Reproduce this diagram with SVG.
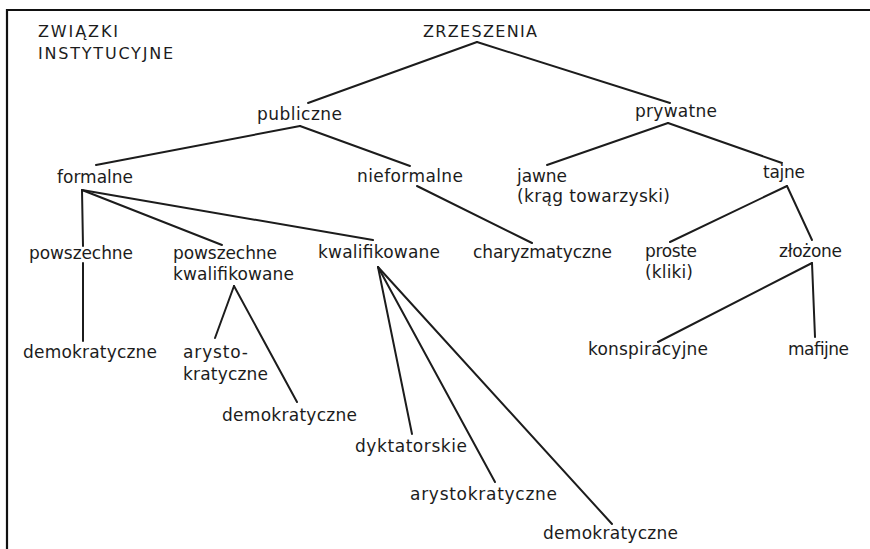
<svg xmlns="http://www.w3.org/2000/svg" width="870" height="549" viewBox="0 0 870 549">
<style>
text{font-family:"DejaVu Sans","Liberation Sans",sans-serif;font-size:17px;fill:#1c1c1c}
.cap{font-size:16px}
.ln{stroke:#1c1c1c;stroke-width:2;fill:none;stroke-linecap:round}
.frame{stroke:#111;stroke-width:2.2;fill:none}
</style>
<rect width="870" height="549" fill="#fff"/>
<path class="frame" d="M7,549 V10 H870"/>
<g id="connectors">
<line class="ln" x1="477" y1="42" x2="308" y2="103"/>
<line class="ln" x1="477" y1="42" x2="670" y2="103"/>
<line class="ln" x1="300" y1="126" x2="96" y2="165"/>
<line class="ln" x1="300" y1="126" x2="410" y2="166"/>
<line class="ln" x1="668" y1="123" x2="547" y2="165"/>
<line class="ln" x1="668" y1="123" x2="782" y2="163"/>
<line class="ln" x1="787" y1="186" x2="670" y2="242"/>
<line class="ln" x1="787" y1="186" x2="812" y2="240"/>
<line class="ln" x1="812" y1="263" x2="658" y2="342"/>
<line class="ln" x1="812" y1="263" x2="815" y2="337"/>
<line class="ln" x1="82" y1="190" x2="83" y2="246"/>
<line class="ln" x1="82" y1="190" x2="222" y2="245"/>
<line class="ln" x1="82" y1="190" x2="373" y2="240"/>
<line class="ln" x1="417" y1="186" x2="532" y2="243"/>
<line class="ln" x1="83" y1="263" x2="83" y2="341"/>
<line class="ln" x1="234" y1="286" x2="215" y2="338"/>
<line class="ln" x1="234" y1="286" x2="297" y2="402"/>
<line class="ln" x1="378" y1="267" x2="412" y2="434"/>
<line class="ln" x1="378" y1="267" x2="495" y2="482"/>
<line class="ln" x1="378" y1="267" x2="612" y2="524"/>
</g>
<g id="zwiazki"><text class="cap" x="38" y="37" textLength="80" lengthAdjust="spacing">ZWIĄZKI</text><text class="cap" x="38" y="59" textLength="135" lengthAdjust="spacing">INSTYTUCYJNE</text></g>
<g id="zrzeszenia"><text class="cap" x="423" y="37" textLength="114" lengthAdjust="spacing">ZRZESZENIA</text></g>
<g id="publiczne"><text x="257" y="120" textLength="85" lengthAdjust="spacing">publiczne</text></g>
<g id="prywatne"><text x="635" y="117" textLength="82" lengthAdjust="spacing">prywatne</text></g>
<g id="formalne"><text x="57" y="183" textLength="76" lengthAdjust="spacing">formalne</text></g>
<g id="nieformalne"><text x="357" y="182" textLength="106" lengthAdjust="spacing">nieformalne</text></g>
<g id="jawne"><text x="517" y="182" textLength="50" lengthAdjust="spacing">jawne</text><text x="517" y="202" textLength="153" lengthAdjust="spacing">(krąg towarzyski)</text></g>
<g id="tajne"><text x="763" y="178" textLength="42" lengthAdjust="spacing">tajne</text></g>
<g id="powszechne"><text x="29" y="259" textLength="104" lengthAdjust="spacing">powszechne</text></g>
<g id="powszechne-kwalifikowane"><text x="173" y="259" textLength="104" lengthAdjust="spacing">powszechne</text><text x="173" y="280" textLength="121" lengthAdjust="spacing">kwalifikowane</text></g>
<g id="kwalifikowane"><text x="318" y="258" textLength="122" lengthAdjust="spacing">kwalifikowane</text></g>
<g id="charyzmatyczne"><text x="473" y="258" textLength="139" lengthAdjust="spacing">charyzmatyczne</text></g>
<g id="proste"><text x="645" y="257" textLength="52" lengthAdjust="spacing">proste</text><text x="645" y="278" textLength="48" lengthAdjust="spacing">(kliki)</text></g>
<g id="zlozone"><text x="779" y="257" textLength="63" lengthAdjust="spacing">złożone</text></g>
<g id="konspiracyjne"><text x="588" y="355" textLength="120" lengthAdjust="spacing">konspiracyjne</text></g>
<g id="mafijne"><text x="788" y="355" textLength="61" lengthAdjust="spacing">mafijne</text></g>
<g id="demokratyczne-1"><text x="23" y="358" textLength="134" lengthAdjust="spacing">demokratyczne</text></g>
<g id="arystokratyczne-1"><text x="183" y="358" textLength="65" lengthAdjust="spacing">arysto-</text><text x="183" y="380" textLength="85" lengthAdjust="spacing">kratyczne</text></g>
<g id="demokratyczne-2"><text x="222" y="421" textLength="135" lengthAdjust="spacing">demokratyczne</text></g>
<g id="dyktatorskie"><text x="355" y="452" textLength="112" lengthAdjust="spacing">dyktatorskie</text></g>
<g id="arystokratyczne-2"><text x="410" y="500" textLength="147" lengthAdjust="spacing">arystokratyczne</text></g>
<g id="demokratyczne-3"><text x="543" y="539" textLength="135" lengthAdjust="spacing">demokratyczne</text></g>
</svg>
